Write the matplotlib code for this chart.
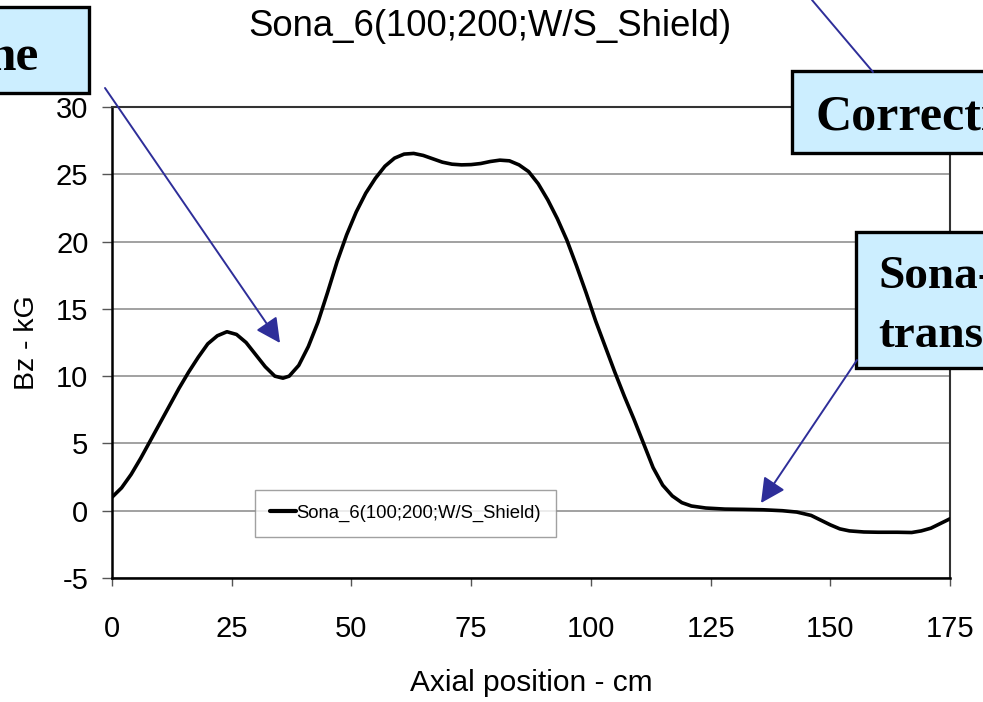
import matplotlib.pyplot as plt
from matplotlib.patches import Rectangle, FancyArrowPatch

# axial position (cm) and Bz (kG)
pos = [0, 2, 4, 6, 8, 10, 12, 14, 16, 18, 20, 22, 24, 26, 28, 30, 32, 34,
       35.7, 37, 39, 41, 43, 45, 47, 49, 51, 53, 55, 57, 59, 61, 63, 65, 67,
       69, 71, 73, 75, 77, 79, 81, 83, 85, 87, 89, 91, 93, 95, 97, 99, 101,
       103, 105, 107, 109, 111, 113, 115, 117, 119, 121, 124, 128, 132, 136,
       140, 143, 146, 148, 150, 152, 154, 157, 160, 164, 167, 169, 171, 173,
       175]
bz = [1.0, 1.7, 2.7, 3.9, 5.2, 6.5, 7.8, 9.1, 10.3, 11.4, 12.4, 13.0, 13.3,
      13.1, 12.5, 11.6, 10.7, 10.0, 9.85, 10.0, 10.8, 12.2, 14.0, 16.2, 18.5,
      20.5, 22.2, 23.6, 24.7, 25.6, 26.2, 26.5, 26.55, 26.4, 26.15, 25.9,
      25.75, 25.7, 25.72, 25.8, 25.95, 26.05, 26.0, 25.7, 25.2, 24.3, 23.1,
      21.7, 20.1, 18.2, 16.2, 14.1, 12.2, 10.3, 8.5, 6.8, 5.0, 3.2, 1.9, 1.1,
      0.6, 0.35, 0.2, 0.12, 0.1, 0.07, 0.0, -0.1, -0.35, -0.7, -1.05, -1.35,
      -1.5, -1.58, -1.6, -1.6, -1.62, -1.5, -1.3, -0.95, -0.6]

series_name = "Sona_6(100;200;W/S_Shield)"
xticks = [0, 25, 50, 75, 100, 125, 150, 175]
yticks = [-5, 0, 5, 10, 15, 20, 25, 30]

W, H = 983, 702
plt.rcParams['font.family'] = ['Liberation Sans', 'DejaVu Sans']
plt.rcParams['axes.unicode_minus'] = False

fig = plt.figure(figsize=(W / 100, H / 100), dpi=100)
ax = fig.add_axes([112 / W, 1 - 578 / H, (950 - 112) / W, (578 - 107) / H])


def px(x, y):
    return (x / W, 1 - y / H)


ax.plot(pos, bz, color='black', lw=2.6, solid_joinstyle='round',
        solid_capstyle='round', label=series_name, zorder=3)

ax.set_xlim(0, 175)
ax.set_ylim(-5, 30)
ax.set_xticks(xticks)
ax.set_yticks(yticks)
ax.yaxis.grid(True, color='#9a9a9a', lw=1.3)
ax.set_axisbelow(True)
ax.tick_params(axis='x', length=6, width=1, color='#555555', pad=20.5, labelsize=21)
ax.tick_params(axis='y', length=7, width=1, color='#555555', pad=10, labelsize=21)
for side in ['left', 'bottom']:
    ax.spines[side].set_linewidth(1.8)
    ax.spines[side].set_color('black')
for side in ['top', 'right']:
    ax.spines[side].set_linewidth(1.5)
    ax.spines[side].set_color('#333333')

ax.set_xlabel("Axial position - cm", fontsize=21.5, labelpad=19)
ax.set_ylabel("Bz - kG", fontsize=20.5)
ax.yaxis.set_label_coords(-(112 - 40) / (950 - 112), 0.5)
fig.text(*px(490, 36), series_name, fontsize=26.3, ha='center', va='baseline')

leg = ax.legend(loc='upper left', bbox_to_anchor=px(255, 490),
                bbox_transform=fig.transFigure, fontsize=13.3, frameon=True,
                fancybox=False, borderpad=0.8, handlelength=1.4,
                handletextpad=0.05, borderaxespad=0)
leg.get_frame().set_edgecolor('#8a8a8a')
leg.get_frame().set_linewidth(1.0)
for h in leg.legend_handles:
    h.set_linewidth(3)

# callout boxes and arrows
box_fc = '#cceeff'
navy = '#2e2e99'
serif = ['Liberation Serif', 'DejaVu Serif']


def box(x0, y0, x1, y1):
    (fx0, fy1) = px(x0, y0)
    (fx1, fy0) = px(x1, y1)
    fig.add_artist(Rectangle((fx0, fy0), fx1 - fx0, fy1 - fy0,
                             transform=fig.transFigure, fc=box_fc,
                             ec='black', lw=2.4, zorder=5))


def arrow(p0, p1, head=True):
    style = '-|>,head_length=0.75,head_width=0.38' if head else '-'
    fig.add_artist(FancyArrowPatch(px(*p0), px(*p1), transform=fig.transFigure,
                                   arrowstyle=style, mutation_scale=20,
                                   color=navy, lw=1.4, shrinkA=0, shrinkB=0,
                                   zorder=6))


arrow((105, 88), (280, 343))
arrow((873, 72), (812, 0), head=False)
arrow((857, 360), (761, 503))

box(-10, 7, 89, 93)
box(792, 71, 1000, 153)
box(856, 232, 1000, 368)

fig.text(*px(39, 70), "ne", fontsize=37, fontweight='bold', family=serif,
         ha='right', va='baseline', zorder=7)
fig.text(*px(815, 130), "Correcti", fontsize=36, fontweight='bold', family=serif,
         ha='left', va='baseline', zorder=7)
fig.text(*px(878, 288), "Sona-", fontsize=34, fontweight='bold', family=serif,
         ha='left', va='baseline', zorder=7)
fig.text(*px(878, 347), "trans", fontsize=34, fontweight='bold', family=serif,
         ha='left', va='baseline', zorder=7)

fig.savefig("out.png", dpi=100)
